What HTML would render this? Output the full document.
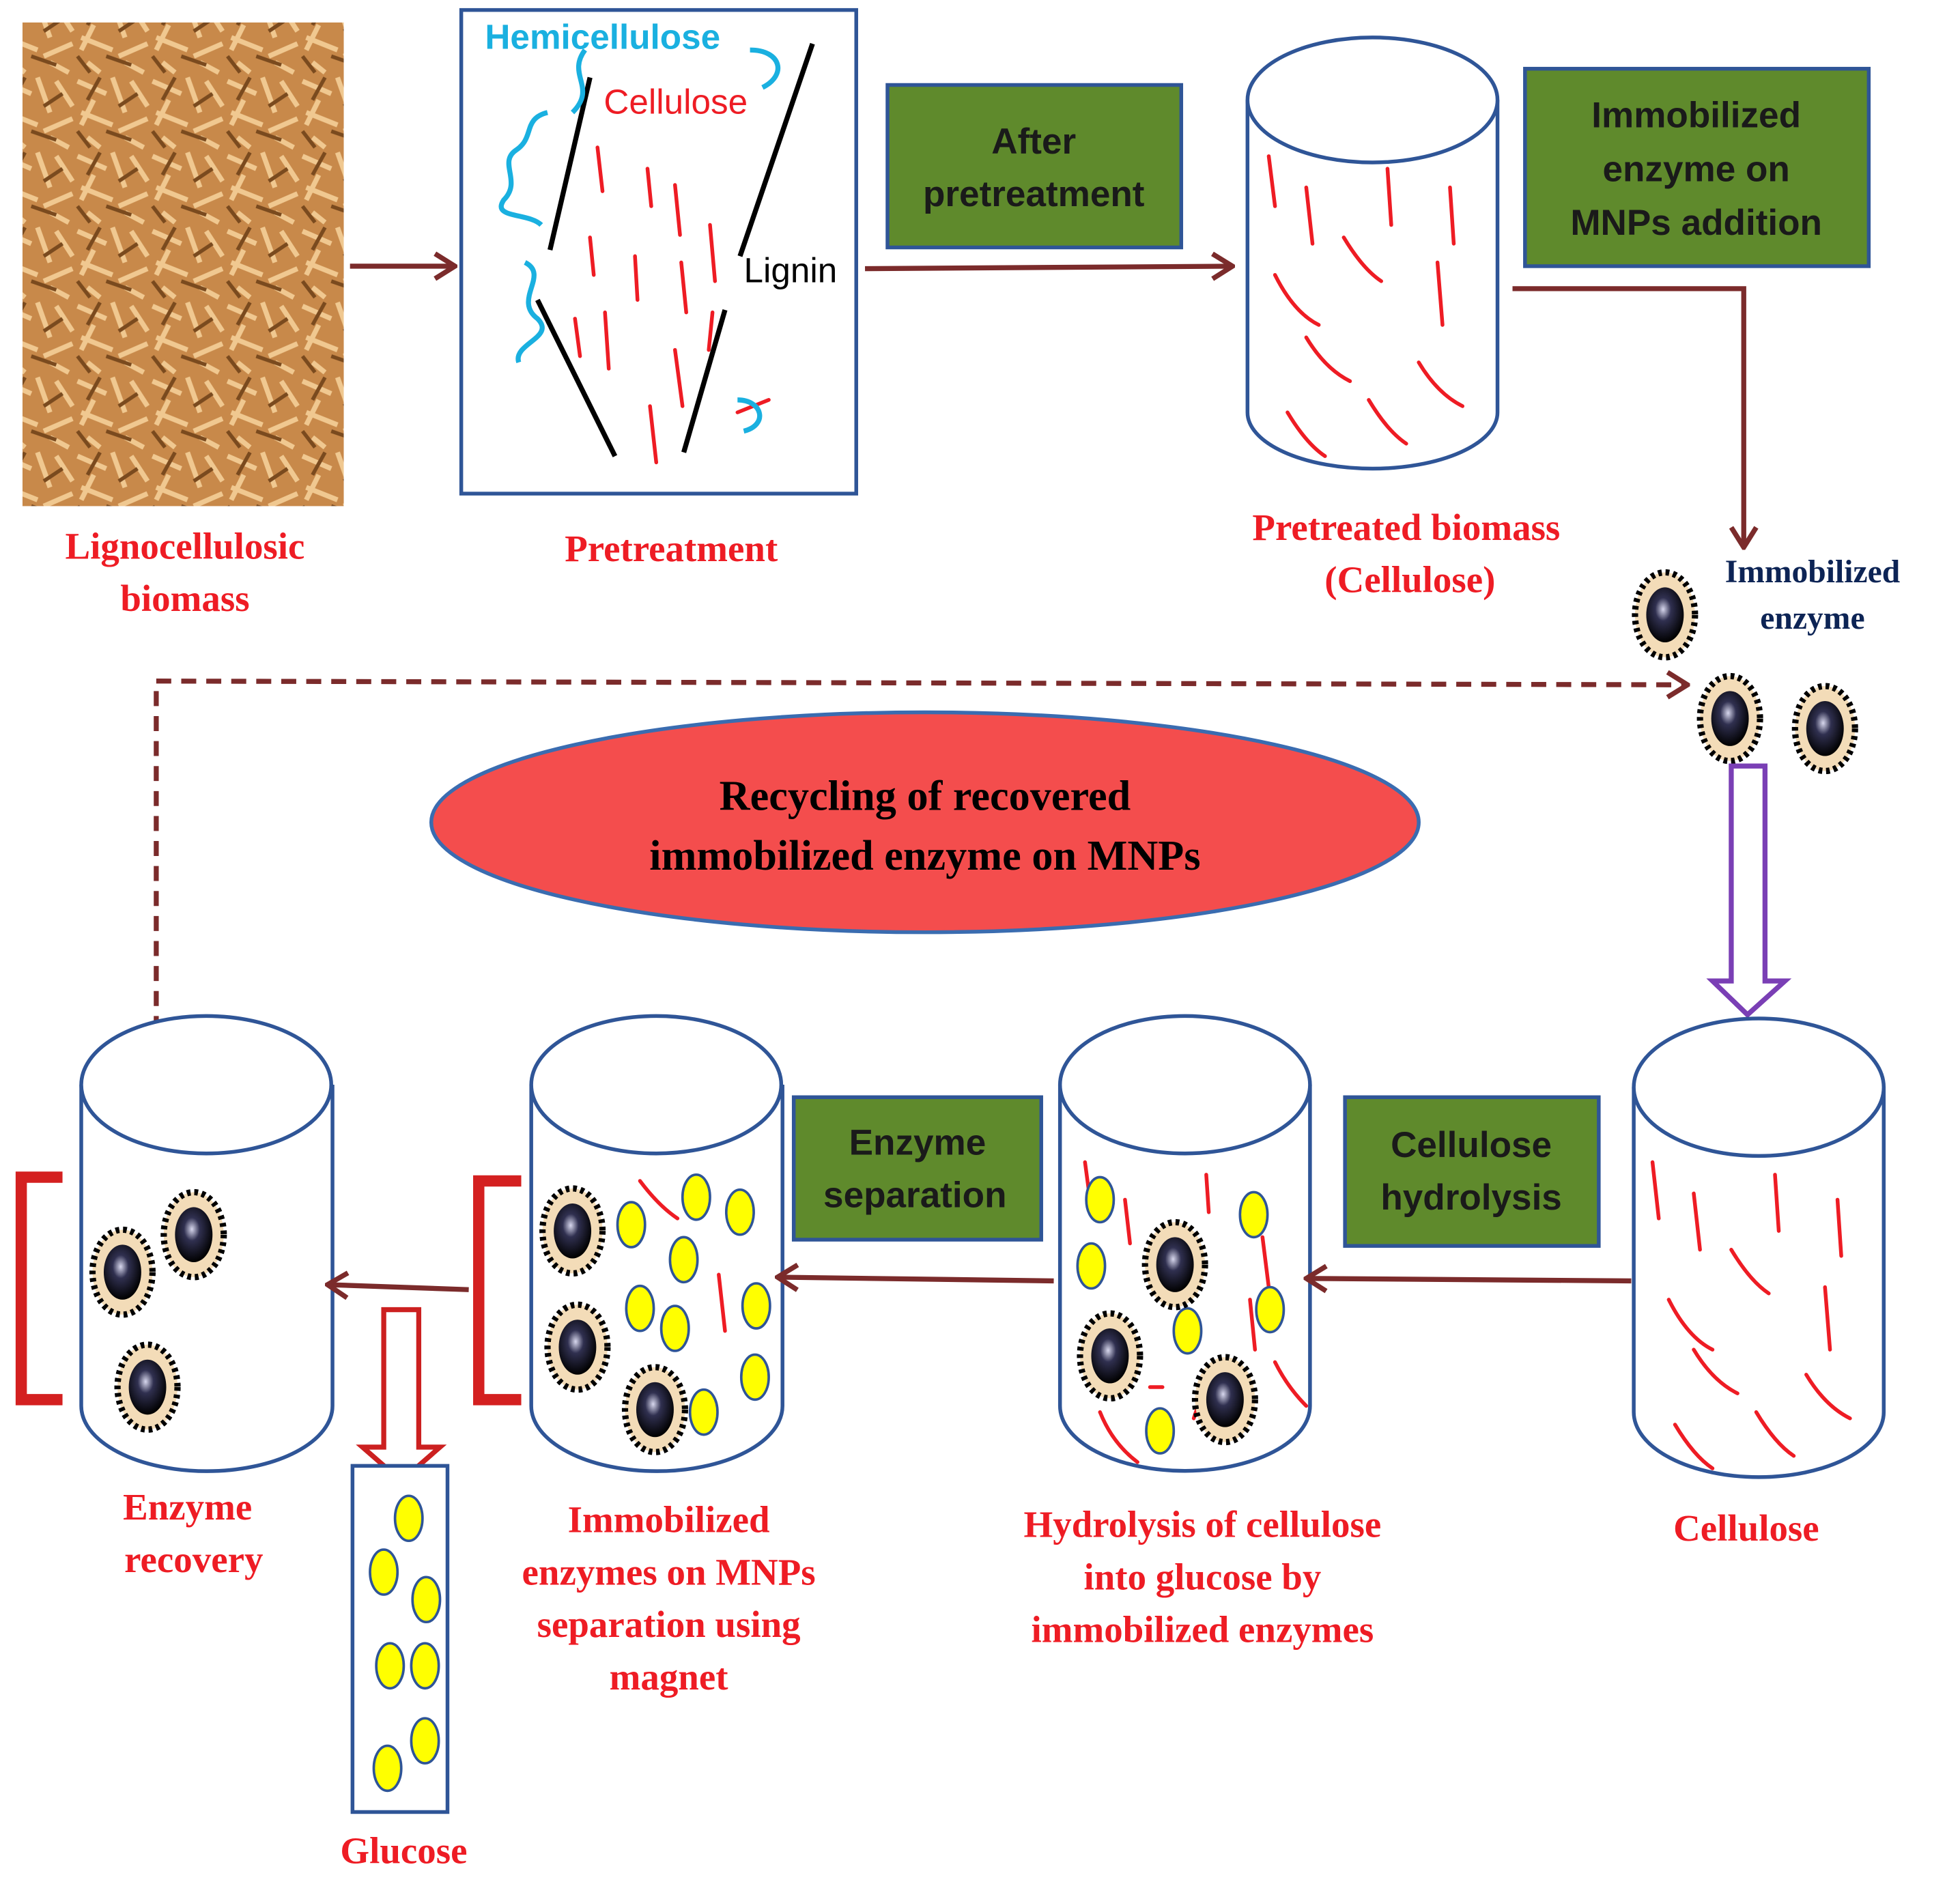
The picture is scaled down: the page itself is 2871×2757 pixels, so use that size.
<!DOCTYPE html>
<html><head><meta charset="utf-8"><style>
html,body{margin:0;padding:0;background:#fff}
svg{display:block}
.lab{font-family:"Liberation Serif",serif;font-weight:bold;fill:#ee1c24;font-size:30px;text-anchor:middle}
.gt{font-family:"Liberation Sans",sans-serif;font-weight:bold;fill:#1a1a1a;font-size:29px;text-anchor:middle}
.gb{fill:#5f8a2c;stroke:#2f5597;stroke-width:3}
.cyl{fill:#fff;stroke:#2f5597;stroke-width:3}
.rd{stroke:#ee1c24;stroke-width:3;fill:none;stroke-linecap:round}
.ar{stroke:#7b2b2b;stroke-width:4;fill:none}
.ye{fill:#ffff00;stroke:#2f5597;stroke-width:2}
</style></head><body>
<svg width="2871" height="2757" viewBox="0 0 1568 1506" preserveAspectRatio="none" xmlns="http://www.w3.org/2000/svg">
<defs>
<radialGradient id="core" cx="45%" cy="40%" r="60%"><stop offset="0" stop-color="#d8d8ee"/><stop offset="0.35" stop-color="#303050"/><stop offset="1" stop-color="#000"/></radialGradient>
<g id="p">
<ellipse rx="24" ry="34" fill="#f3dcb8" stroke="#000" stroke-width="5" stroke-dasharray="3 3"/>
<ellipse rx="15" ry="22" fill="url(#core)"/>
</g>
<marker id="ah2" markerWidth="20" markerHeight="24" refX="18" refY="12" orient="auto" markerUnits="userSpaceOnUse"><path d="M2,2 L18,12 L2,22" fill="none" stroke="#7b2b2b" stroke-width="4"/></marker>
<pattern id="wood" width="60" height="60" patternUnits="userSpaceOnUse">
<rect width="60" height="60" fill="#c8894a"/>
<path d="M2,5 L25,15 M30,2 L40,30 M5,30 L30,40 M35,45 L58,35 M45,5 L58,25 M10,50 L20,58 M40,50 L55,58 M15,20 L5,40" stroke="#f0c890" stroke-width="4"/>
<path d="M20,2 L10,20 M50,15 L35,25 M25,45 L45,52 M2,45 L12,58" stroke="#7a4a1e" stroke-width="3"/>
</pattern>
</defs>

<rect x="18" y="18" width="257" height="387" fill="url(#wood)"/>
<text class="lab" x="148" y="447">Lignocellulosic</text>
<text class="lab" x="148" y="489">biomass</text>
<line class="ar" x1="280" y1="213" x2="364" y2="213" marker-end="url(#ah2)"/>

<rect x="369" y="8" width="316" height="387" fill="#fff" stroke="#2f5597" stroke-width="3"/>
<g stroke="#000" stroke-width="4">
<line x1="472" y1="62" x2="440" y2="200"/><line x1="650" y1="35" x2="592" y2="205"/>
<line x1="430" y1="240" x2="492" y2="365"/><line x1="580" y1="248" x2="547" y2="362"/>
</g>
<g class="rd">
<path d="M478,118 l4,35 M518,135 l3,30 M540,148 l4,40 M568,180 l4,45 M472,190 l3,30 M508,205 l2,35 M545,210 l4,40 M484,250 l3,45 M540,280 l6,45 M520,325 l5,45 M460,255 l4,30 M570,250 l-3,30 M590,330 l25,-10"/>
</g>
<g stroke="#1ab0e0" stroke-width="4" fill="none">
<path d="M438,90 c-20,5 -10,20 -25,30 c-15,10 5,25 -10,40 c-10,15 20,10 30,20 M420,210 c20,10 -10,30 10,45 c15,15 -20,20 -15,35 M468,40 c-15,20 10,30 -10,50 M600,40 c25,0 30,20 10,30 M590,320 c20,0 25,20 5,25"/>
</g>
<text x="388" y="39" font-family="Liberation Sans,sans-serif" font-weight="bold" font-size="28" fill="#1ab0e0">Hemicellulose</text>
<text x="483" y="91" font-family="Liberation Sans,sans-serif" font-size="28" fill="#ee1c24">Cellulose</text>
<text x="595" y="226" font-family="Liberation Sans,sans-serif" font-size="28" fill="#000">Lignin</text>
<text class="lab" x="537" y="449">Pretreatment</text>
<line class="ar" x1="692" y1="215" x2="986" y2="213" marker-end="url(#ah2)"/>

<rect class="gb" x="710" y="68" width="235" height="130"/>
<text class="gt" x="827" y="123">After</text>
<text class="gt" x="827" y="165">pretreatment</text>

<path class="cyl" d="M998,80 L998,330 A100,45 0 0 0 1198,330 L1198,80"/>
<ellipse class="cyl" cx="1098" cy="80" rx="100" ry="50"/>
<g class="rd"><path d="M1015,125 l5,40 M1045,150 l5,45 M1075,190 q15,25 30,35 M1110,135 l3,45 M1160,150 l3,45 M1020,220 q15,30 35,40 M1150,210 l4,50 M1045,270 q15,25 35,35 M1135,290 q15,25 35,35 M1030,330 q15,25 30,35 M1095,320 q15,25 30,35"/></g>

<rect class="gb" x="1220" y="55" width="275" height="158"/>
<text class="gt" x="1357" y="102">Immobilized</text>
<text class="gt" x="1357" y="145">enzyme on</text>
<text class="gt" x="1357" y="188">MNPs  addition</text>
<path class="ar" d="M1210,231 L1395,231 L1395,438" marker-end="url(#ah2)"/>
<text class="lab" x="1125" y="432">Pretreated biomass</text>
<text class="lab" x="1128" y="474">(Cellulose)</text>
<text x="1450" y="466" font-family="Liberation Serif,serif" font-weight="bold" font-size="26" fill="#0d2455" text-anchor="middle">Immobilized</text>
<text x="1450" y="503" font-family="Liberation Serif,serif" font-weight="bold" font-size="26" fill="#0d2455" text-anchor="middle">enzyme</text>
<use href="#p" x="1332" y="492"/><use href="#p" x="1384" y="575"/><use href="#p" x="1460" y="583"/>

<path d="M125,965 L125,545 L1350,548" stroke="#7b2b2b" stroke-width="4" fill="none" stroke-dasharray="12 8" marker-end="url(#ah2)"/>
<ellipse cx="740" cy="658" rx="395" ry="88" fill="#f44d4d" stroke="#3a6cb0" stroke-width="3"/>
<text x="740" y="648" font-family="Liberation Serif,serif" font-weight="bold" font-size="34" text-anchor="middle">Recycling of recovered</text>
<text x="740" y="696" font-family="Liberation Serif,serif" font-weight="bold" font-size="34" text-anchor="middle">immobilized  enzyme  on  MNPs</text>

<path d="M1385,613 L1412,613 L1412,785 L1428,785 L1398,812 L1370,785 L1385,785 Z" fill="#fff" stroke="#7a3fb5" stroke-width="4"/>

<path class="cyl" d="M65,868 L65,1125 A100,52 0 0 0 266,1125 L266,868"/><ellipse class="cyl" cx="165" cy="868" rx="100" ry="55"/>
<path class="cyl" d="M425,868 L425,1125 A100,52 0 0 0 626,1125 L626,868"/><ellipse class="cyl" cx="525" cy="868" rx="100" ry="55"/>
<path class="cyl" d="M848,868 L848,1125 A100,52 0 0 0 1048,1125 L1048,868"/><ellipse class="cyl" cx="948" cy="868" rx="100" ry="55"/>
<path class="cyl" d="M1307,870 L1307,1130 A100,52 0 0 0 1507,1130 L1507,870"/><ellipse class="cyl" cx="1407" cy="870" rx="100" ry="55"/>

<g class="rd"><path d="M1322,930 l5,45 M1355,955 l5,45 M1385,1000 q15,25 30,35 M1420,940 l3,45 M1470,960 l3,45 M1335,1040 q15,30 35,40 M1460,1030 l4,50 M1355,1080 q15,25 35,35 M1445,1100 q15,25 35,35 M1340,1140 q15,25 30,35 M1405,1130 q15,25 30,35"/></g>
<g class="rd"><path d="M868,930 l4,30 M900,960 l4,35 M965,940 l2,30 M1010,990 l5,40 M1000,1040 l4,40 M1020,1090 q10,20 25,35 M880,1130 q10,25 30,40 M960,1120 l-5,15 M920,1110 l10,0"/></g>
<g class="ye"><ellipse cx="880" cy="960" rx="11" ry="18"/><ellipse cx="873" cy="1013" rx="11" ry="18"/><ellipse cx="1003" cy="972" rx="11" ry="18"/><ellipse cx="1016" cy="1048" rx="11" ry="18"/><ellipse cx="950" cy="1065" rx="11" ry="18"/><ellipse cx="928" cy="1145" rx="11" ry="18"/></g>
<use href="#p" x="940" y="1012"/><use href="#p" x="888" y="1085"/><use href="#p" x="980" y="1120"/>
<g class="rd"><path d="M512,945 q15,20 30,30 M575,1020 l5,45"/></g>
<g class="ye"><ellipse cx="505" cy="980" rx="11" ry="18"/><ellipse cx="557" cy="958" rx="11" ry="18"/><ellipse cx="592" cy="970" rx="11" ry="18"/><ellipse cx="547" cy="1008" rx="11" ry="18"/><ellipse cx="512" cy="1047" rx="11" ry="18"/><ellipse cx="540" cy="1063" rx="11" ry="18"/><ellipse cx="605" cy="1045" rx="11" ry="18"/><ellipse cx="604" cy="1102" rx="11" ry="18"/><ellipse cx="563" cy="1130" rx="11" ry="18"/></g>
<use href="#p" x="458" y="985"/><use href="#p" x="462" y="1078"/><use href="#p" x="524" y="1128"/>
<use href="#p" x="98" y="1018"/><use href="#p" x="155" y="988"/><use href="#p" x="118" y="1110"/>

<path d="M50,942 L17,942 L17,1120 L50,1120" stroke="#d42020" stroke-width="9" fill="none"/>
<path d="M417,945 L383,945 L383,1120 L417,1120" stroke="#d42020" stroke-width="9" fill="none"/>

<rect class="gb" x="635" y="878" width="198" height="114"/>
<text class="gt" x="734" y="924">Enzyme</text>
<text class="gt" x="732" y="966">separation</text>
<rect class="gb" x="1076" y="878" width="203" height="119"/>
<text class="gt" x="1177" y="926">Cellulose</text>
<text class="gt" x="1177" y="968">hydrolysis</text>

<line class="ar" x1="1305" y1="1025" x2="1045" y2="1023" marker-end="url(#ah2)"/>
<line class="ar" x1="843" y1="1025" x2="622" y2="1022" marker-end="url(#ah2)"/>
<line class="ar" x1="375" y1="1032" x2="262" y2="1028" marker-end="url(#ah2)"/>

<path d="M307,1048 L335,1048 L335,1158 L352,1158 L321,1185 L290,1158 L307,1158 Z" fill="#fff" stroke="#cc2020" stroke-width="4"/>
<rect x="282" y="1173" width="76" height="277" fill="#fff" stroke="#2f5597" stroke-width="3"/>
<g class="ye"><ellipse cx="327" cy="1215" rx="11" ry="18"/><ellipse cx="307" cy="1258" rx="11" ry="18"/><ellipse cx="341" cy="1280" rx="11" ry="18"/><ellipse cx="312" cy="1333" rx="11" ry="18"/><ellipse cx="340" cy="1333" rx="11" ry="18"/><ellipse cx="340" cy="1393" rx="11" ry="18"/><ellipse cx="310" cy="1415" rx="11" ry="18"/></g>

<text class="lab" x="150" y="1216">Enzyme</text>
<text class="lab" x="155" y="1258">recovery</text>
<text class="lab" x="323" y="1491">Glucose</text>
<text class="lab" x="535" y="1226">Immobilized</text>
<text class="lab" x="535" y="1268">enzymes on MNPs</text>
<text class="lab" x="535" y="1310">separation using</text>
<text class="lab" x="535" y="1352">magnet</text>
<text class="lab" x="962" y="1230">Hydrolysis  of cellulose</text>
<text class="lab" x="962" y="1272">into glucose by</text>
<text class="lab" x="962" y="1314">immobilized  enzymes</text>
<text class="lab" x="1397" y="1233">Cellulose</text>
</svg>
</body></html>
